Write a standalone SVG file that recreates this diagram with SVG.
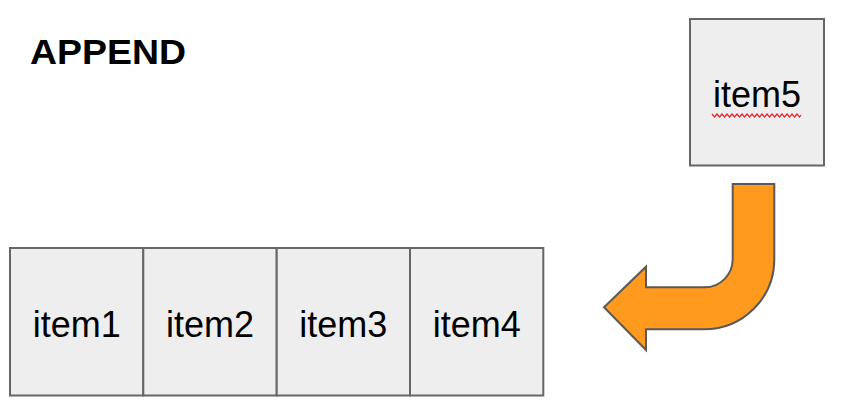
<svg xmlns="http://www.w3.org/2000/svg" width="846" height="414" viewBox="0 0 846 414">
<style>
.box{fill:#eeeeee;stroke:#666666;stroke-width:2}
.lbl{font-family:"Liberation Sans",Arial,sans-serif;font-size:36px;fill:#000;text-anchor:middle}
.title{font-family:"Liberation Sans",Arial,sans-serif;font-size:35px;font-weight:bold;fill:#000}
</style>
<rect width="846" height="414" fill="#ffffff"/>
<text class="title" x="30" y="64" textLength="156" lengthAdjust="spacingAndGlyphs">APPEND</text>
<g id="item1"><rect class="box" x="10" y="248" width="133.3" height="147.5"/><text class="lbl" x="76.7" y="337">item1</text></g>
<g id="item2"><rect class="box" x="143.3" y="248" width="133.4" height="147.5"/><text class="lbl" x="210" y="337">item2</text></g>
<g id="item3"><rect class="box" x="276.7" y="248" width="133.3" height="147.5"/><text class="lbl" x="343.3" y="337">item3</text></g>
<g id="item4"><rect class="box" x="410" y="248" width="133.3" height="147.5"/><text class="lbl" x="476.7" y="337">item4</text></g>
<g id="item5"><rect class="box" x="690" y="19" width="134" height="146.5"/><text class="lbl" x="757" y="107">item5</text>
<polyline points="712,114 714.5,117 717,114 719.5,117 722,114 724.5,117 727,114 729.5,117 732,114 734.5,117 737,114 739.5,117 742,114 744.5,117 747,114 749.5,117 752,114 754.5,117 757,114 759.5,117 762,114 764.5,117 767,114 769.5,117 772,114 774.5,117 777,114 779.5,117 782,114 784.5,117 787,114 789.5,117 792,114 794.5,117 797,114 799.5,117 801,115" fill="none" stroke="#e8242b" stroke-width="1.2"/></g>
<g id="connectors">
<path d="M732.7,184 L774.3,184 L774.3,259.3 A70,70 0 0 1 704.3,329.3 L646,329.3 L646,350 L604,307.3 L646,266.7 L646,287.3 L704.7,287.3 A28,28 0 0 0 732.7,259.3 Z" fill="#ff9a1e" stroke="#595959" stroke-width="2" stroke-linejoin="miter"/>
</g>
</svg>
